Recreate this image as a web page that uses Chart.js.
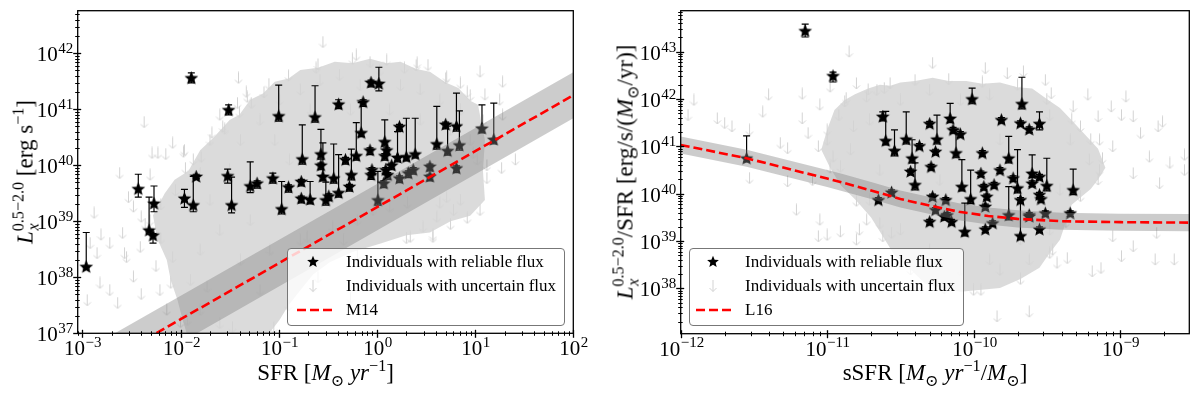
<!DOCTYPE html>
<html>
<head>
<meta charset="utf-8">
<title>Lx vs SFR and sSFR</title>
<script src="https://cdn.jsdelivr.net/npm/chart.js@4.4.0/dist/chart.umd.min.js"></script>
<style>
  html, body { margin: 0; padding: 0; background: #fff; }
  #fig { position: relative; width: 1200px; height: 398px; overflow: hidden; font-family: "Liberation Serif", "DejaVu Serif", serif; color: #000; }
  #fig canvas { position: absolute; top: 0; }
  .title { position: absolute; white-space: nowrap; font-size: 23px; line-height: 1; }
  .xt { transform: translateX(-50%); }
  .yt { transform: translate(-50%, -50%) rotate(-90deg); }
  .up { position: relative; top: -0.55em; font-size: 0.7em; }
  .dn { position: relative; top: 0.35em; font-size: 0.7em; }
  .ss { position: relative; display: inline-block; font-size: 0.7em; }
  .ss .sp { position: relative; top: -0.55em; }
  .ss .sb { position: absolute; left: 0.05em; top: 0.36em; font-style: italic; }
  .leg { position: absolute; box-sizing: border-box; border: 1px solid #777; border-radius: 4px; background: rgba(255,255,255,0.8); font-size: 17px; line-height: 1; }
  .leg .row { position: absolute; left: 0; width: 100%; height: 0; }
  .leg svg { position: absolute; top: 0; width: 1px; height: 1px; overflow: visible; }
  .leg span { position: absolute; white-space: nowrap; top: -9px; }
</style>
</head>
<body>
<div id="fig">
  <canvas id="leftChart" width="600" height="398" style="left:0"></canvas>
  <canvas id="rightChart" width="600" height="398" style="left:600px"></canvas>

  <div class="title yt" style="left:25px;top:172px"><i>L</i><span class="ss"><span class="sp">0.5−2.0</span><span class="sb">x</span></span> [erg s<span class="up">−1</span>]</div>
  <div class="title xt" style="left:325.5px;top:361px">SFR [<i>M</i><span class="dn">⊙</span> <i>yr</i><span class="up">−1</span>]</div>
  <div class="title yt" style="left:625px;top:172px"><i>L</i><span class="ss"><span class="sp">0.5−2.0</span><span class="sb">x</span></span>/SFR [erg/s/(<i>M</i><span class="dn">⊙</span>/yr)]</div>
  <div class="title xt" style="left:935px;top:361px">sSFR [<i>M</i><span class="dn">⊙</span> <i>yr</i><span class="up">−1</span>/<i>M</i><span class="dn">⊙</span>]</div>

  <div class="leg" style="left:287px;top:248px;width:278px;height:78px">
    <div class="row" style="top:13px">
      <svg style="left:25px"><polygon fill="#000" points="0,-6.2 1.64,-2.26 5.9,-1.92 2.65,0.86 3.64,5.02 0,2.79 -3.64,5.02 -2.65,0.86 -5.9,-1.92 -1.64,-2.26"/></svg>
      <span style="left:58px">Individuals with reliable flux</span>
    </div>
    <div class="row" style="top:37px">
      <svg style="left:25px"><path d="M0,-6 L0,5.5 M-3.5,2 L0,5.5 L3.5,2" stroke="#d3d3d3" stroke-width="1" fill="none"/></svg>
      <span style="left:58px">Individuals with uncertain flux</span>
    </div>
    <div class="row" style="top:61px">
      <svg style="left:9px"><line x1="0" y1="0" x2="35" y2="0" stroke="#ff0000" stroke-width="2.6" stroke-dasharray="9 4"/></svg>
      <span style="left:58px">M14</span>
    </div>
  </div>

  <div class="leg" style="left:689px;top:248px;width:275px;height:78px">
    <div class="row" style="top:13px">
      <svg style="left:23px"><polygon fill="#000" points="0,-6.2 1.64,-2.26 5.9,-1.92 2.65,0.86 3.64,5.02 0,2.79 -3.64,5.02 -2.65,0.86 -5.9,-1.92 -1.64,-2.26"/></svg>
      <span style="left:55px">Individuals with reliable flux</span>
    </div>
    <div class="row" style="top:37px">
      <svg style="left:23px"><path d="M0,-6 L0,5.5 M-3.5,2 L0,5.5 L3.5,2" stroke="#d3d3d3" stroke-width="1" fill="none"/></svg>
      <span style="left:55px">Individuals with uncertain flux</span>
    </div>
    <div class="row" style="top:61px">
      <svg style="left:6px"><line x1="0" y1="0" x2="36" y2="0" stroke="#ff0000" stroke-width="2.6" stroke-dasharray="9 4"/></svg>
      <span style="left:55px">L16</span>
    </div>
  </div>
</div>

<script>
// All values are log10.

// axis ranges and tick exponents
const leftXRange = [-3.047, 2.0];
const leftYRange = [37.0, 42.76];
const rightXRange = [-12.0, -8.527];
const rightYRange = [37.045, 43.865];
const leftXTicks = [-3, -2, -1, 0, 1, 2];
const leftYTicks = [37, 38, 39, 40, 41, 42];
const rightXTicks = [-12, -11, -10, -9];
const rightYTicks = [38, 39, 40, 41, 42, 43];

// ---- left panel: SFR vs Lx ----
// reliable detections: [logSFR, logLx, logLx upper bar, logLx lower bar]
const leftStars = [
  [-2.96, 38.19, 38.80, 38.17], [-2.43, 39.58, 39.84, 39.43], [-2.27, 39.32, 39.63, 39.17],
  [-2.32, 38.84, 39.43, 38.81], [-2.28, 38.75, 38.78, 38.61], [-1.96, 39.41, 39.57, 39.25],
  [-1.87, 39.29, 39.80, 39.17], [-1.84, 39.80, 39.84, 39.76], [-1.89, 41.56, 41.65, 41.47],
  [-1.51, 40.99, 41.08, 40.90], [-1.52, 39.81, 39.93, 39.68], [-1.48, 39.29, 39.79, 39.15],
  [-1.29, 39.63, 40.06, 39.51], [-1.22, 39.68, 39.72, 39.59], [-1.06, 39.77, 39.86, 39.68],
  [-1.00, 40.88, 41.43, 40.79], [-0.97, 39.22, 39.71, 39.13], [-0.90, 39.61, 39.65, 39.52],
  [-0.77, 39.71, 39.75, 39.63], [-0.77, 39.41, 39.45, 39.33], [-0.76, 40.11, 40.72, 40.02],
  [-0.68, 39.39, 39.71, 39.31], [-0.63, 40.86, 41.42, 40.77], [-0.57, 40.20, 40.64, 40.11],
  [-0.57, 40.00, 40.04, 39.92], [-0.55, 39.80, 40.40, 39.72], [-0.52, 39.38, 39.70, 39.29],
  [-0.49, 39.45, 39.49, 39.37], [-0.44, 39.77, 40.38, 39.68], [-0.39, 41.09, 41.17, 41.01],
  [-0.39, 39.51, 40.19, 39.43], [-0.32, 40.10, 40.14, 40.02], [-0.28, 39.62, 39.66, 39.54],
  [-0.26, 39.83, 40.29, 39.74], [-0.21, 40.17, 40.76, 40.09], [-0.16, 40.58, 41.12, 40.51],
  [-0.14, 41.13, 41.17, 41.05], [-0.07, 40.27, 40.31, 40.19], [-0.05, 39.92, 39.96, 39.84],
  [-0.06, 39.83, 39.87, 39.75], [-0.06, 41.48, 41.52, 41.40], [0.02, 41.46, 41.75, 41.33],
  [0.01, 39.38, 39.89, 39.29], [0.08, 40.42, 40.81, 40.34], [0.10, 40.27, 40.31, 40.19],
  [0.08, 40.17, 40.21, 40.09], [0.09, 39.92, 39.96, 39.84], [0.11, 39.83, 39.87, 39.75],
  [0.07, 39.68, 39.72, 39.60], [0.15, 40.00, 40.04, 39.92], [0.21, 40.14, 40.60, 40.06],
  [0.23, 40.69, 40.73, 40.61], [0.23, 39.77, 39.81, 39.69], [0.30, 40.15, 40.84, 40.08],
  [0.32, 39.86, 39.90, 39.78], [0.37, 39.92, 39.96, 39.84], [0.39, 40.20, 40.84, 40.13],
  [0.54, 39.98, 40.02, 39.90], [0.54, 39.80, 39.84, 39.72], [0.61, 40.38, 41.05, 40.29],
  [0.70, 40.73, 40.77, 40.65], [0.72, 40.26, 40.70, 40.18], [0.81, 40.70, 41.29, 40.61],
  [0.84, 40.36, 40.97, 40.27], [0.81, 39.95, 39.99, 39.87], [1.07, 40.66, 41.08, 40.58],
  [1.19, 40.46, 41.11, 40.38]
];
// upper limits drawn one by one: [logSFR, logLx]
const leftLimits = [
  [-2.62, 39.86], [-2.37, 40.77], [-2.29, 40.22], [-2.23, 40.22], [-2.15, 40.20], [-2.08, 40.40],
  [-1.97, 40.24], [-1.79, 40.15], [-1.68, 40.58], [-1.60, 40.90], [-1.41, 41.56], [-1.32, 41.22],
  [-1.42, 41.11], [-1.80, 39.86], [-2.31, 39.83], [-2.53, 39.43], [-2.88, 39.15], [-2.81, 38.76],
  [-2.72, 38.61], [-1.96, 40.27], [-1.87, 40.10], [-1.57, 40.69], [-1.33, 41.31], [-1.28, 41.11],
  [-2.48, 39.26], [-2.40, 39.08], [-2.57, 38.43], [-2.92, 38.61], [-2.85, 38.43], [-2.82, 37.90],
  [-2.95, 37.59], [-2.72, 37.77], [-2.64, 37.54], [-2.55, 38.36], [-2.48, 38.01], [-2.59, 38.79],
  [-2.41, 38.54], [-2.21, 37.77], [-2.14, 37.42], [-1.93, 37.24], [-2.31, 39.02], [-2.08, 38.36],
  [-1.73, 37.83], [-1.60, 37.18], [-1.47, 37.11], [-0.55, 42.20], [-0.21, 41.97], [-0.07, 41.84],
  [-0.62, 41.74], [0.28, 41.74], [0.41, 41.83], [0.52, 41.79], [0.71, 41.58], [0.85, 41.47],
  [0.92, 41.31], [1.05, 41.67], [1.28, 41.49], [1.25, 41.17], [1.10, 41.26], [1.28, 40.90],
  [1.41, 40.10], [1.27, 39.95], [0.98, 40.22], [1.12, 39.77], [1.02, 40.10], [0.92, 39.06],
  [0.78, 39.20], [0.61, 39.08], [0.47, 38.90], [0.57, 38.72], [0.34, 38.72], [0.71, 39.43],
  [-0.65, 37.83], [-0.27, 37.63], [-0.71, 38.72], [-0.45, 38.90], [-0.34, 38.67], [-0.20, 39.02],
  [-0.04, 39.20], [0.13, 39.26], [0.31, 39.33], [0.64, 39.33], [0.85, 39.38], [0.57, 38.76],
  [-1.19, 40.81], [-0.99, 41.17], [-0.78, 41.35], [-0.58, 41.52], [-0.38, 41.61], [-0.17, 41.43],
  [0.03, 41.70], [0.24, 41.43], [0.44, 41.35], [0.64, 41.17], [0.85, 40.99], [-1.04, 40.45],
  [-0.89, 40.10], [-1.39, 40.45], [-1.50, 39.92], [-1.70, 39.38], [-1.60, 38.84], [-1.39, 38.31],
  [-1.19, 37.77], [-1.80, 38.49], [-1.90, 37.95], [-1.29, 39.02], [-1.09, 38.49], [-0.78, 38.67],
  [-0.48, 39.38], [-0.27, 40.99], [0.44, 40.81], [0.75, 40.63], [0.95, 40.45], [0.13, 40.99],
  [-0.68, 40.99], [-1.80, 37.42],
  [-2.20, 39.30], [-1.95, 39.95], [-1.70, 40.45], [-1.40, 40.95], [-1.15, 41.30], [-0.90, 41.60],
  [-0.60, 41.80], [-0.25, 41.90], [0.10, 41.88], [0.40, 41.78], [0.70, 41.55], [0.95, 41.25],
  [1.08, 40.80], [1.12, 40.00], [1.05, 39.20], [0.75, 38.95], [0.30, 38.70], [-0.20, 38.40],
  [-0.60, 38.00], [-0.90, 37.50], [-1.05, 37.10], [-2.00, 37.20], [-2.10, 37.90], [-2.20, 38.70],
  [-2.36, 38.95], [-2.25, 38.20], [-2.40, 37.70], [-2.05, 39.55], [-1.55, 40.65], [-1.10, 41.45]
];
// outline of the crowded part of the upper-limit cloud
const leftCloudEdge = [
  [-2.28, 39.11], [-2.16, 39.50], [-2.06, 39.74], [-1.92, 39.90], [-1.80, 40.27], [-1.66, 40.50],
  [-1.50, 40.81], [-1.40, 40.90], [-1.29, 41.17], [-1.16, 41.28], [-1.04, 41.49], [-0.90, 41.55],
  [-0.78, 41.70], [-0.60, 41.74], [-0.43, 41.85], [-0.25, 41.82], [-0.07, 41.90], [0.10, 41.82],
  [0.24, 41.85], [0.40, 41.72], [0.54, 41.67], [0.70, 41.48], [0.83, 41.38], [0.95, 41.15],
  [1.03, 41.08], [1.06, 40.80], [1.10, 40.45], [1.08, 39.90], [1.10, 39.38], [0.95, 39.10],
  [0.75, 39.00], [0.54, 38.80], [0.30, 38.75], [0.03, 38.60], [-0.25, 38.45], [-0.48, 38.27],
  [-0.65, 38.05], [-0.78, 37.77], [-0.90, 37.50], [-0.99, 37.24], [-1.14, 36.90], [-1.92, 36.90],
  [-1.98, 37.25], [-2.03, 37.59], [-2.10, 37.95], [-2.14, 38.31], [-2.24, 38.70]
];
// M14 relation and its scatter band
const m14LogSfr = [-3.05, 2.0];
const m14LogLx = [36.20, 41.25];
const m14BandHi = [36.62, 41.66];
const m14BandLo = [35.78, 40.84];

// ---- right panel: sSFR vs Lx/SFR ----
const rightStars = [
  [-11.55, 40.75, 41.22, 40.67], [-11.15, 43.44, 43.58, 43.31], [-10.96, 42.49, 42.57, 42.36],
  [-10.65, 39.87, 39.92, 39.80], [-10.56, 40.03, 40.08, 39.96], [-10.62, 41.63, 41.73, 41.54],
  [-10.60, 41.12, 41.74, 41.03], [-10.54, 40.91, 41.35, 40.80], [-10.46, 41.15, 41.73, 41.05],
  [-10.42, 40.75, 41.14, 40.65], [-10.37, 41.01, 41.06, 40.94], [-10.43, 40.47, 40.52, 40.40],
  [-10.40, 40.19, 40.65, 40.08], [-10.30, 41.48, 41.53, 41.41], [-10.25, 41.15, 41.66, 41.05],
  [-10.26, 40.89, 40.94, 40.82], [-10.29, 40.57, 40.62, 40.50], [-10.16, 41.59, 41.91, 41.50],
  [-10.14, 41.35, 41.40, 41.28], [-10.09, 41.26, 41.31, 41.19], [-10.12, 40.86, 41.35, 40.76],
  [-10.01, 42.00, 42.23, 41.90], [-9.81, 41.56, 41.61, 41.49], [-9.67, 41.90, 42.46, 41.79],
  [-9.68, 41.49, 41.54, 41.42], [-9.62, 41.36, 41.41, 41.29], [-9.55, 41.48, 41.73, 41.35],
  [-9.76, 40.75, 41.21, 40.65], [-9.94, 40.86, 40.91, 40.79], [-9.95, 40.43, 40.48, 40.36],
  [-9.93, 40.15, 40.20, 40.08], [-9.82, 40.50, 40.55, 40.43], [-9.86, 40.19, 40.24, 40.12],
  [-9.91, 39.94, 39.99, 39.87], [-9.92, 39.73, 39.78, 39.66], [-10.08, 40.15, 40.72, 40.06],
  [-10.02, 39.89, 40.50, 39.79], [-10.28, 39.94, 39.99, 39.87], [-10.26, 39.66, 39.71, 39.59],
  [-10.30, 39.41, 39.46, 39.34], [-10.19, 39.87, 39.92, 39.80], [-10.18, 39.55, 39.60, 39.48],
  [-10.15, 39.41, 39.46, 39.34], [-10.06, 39.20, 39.80, 39.11], [-9.73, 40.33, 40.38, 40.26],
  [-9.70, 40.12, 40.93, 40.02], [-9.68, 39.87, 39.92, 39.80], [-9.68, 39.11, 39.87, 39.03],
  [-9.60, 40.43, 40.82, 40.34], [-9.60, 40.22, 40.27, 40.15], [-9.55, 40.36, 40.41, 40.29],
  [-9.50, 40.17, 40.75, 40.06], [-9.55, 39.98, 40.03, 39.91], [-9.54, 39.89, 39.94, 39.82],
  [-9.62, 39.55, 39.60, 39.48], [-9.51, 39.59, 39.64, 39.52], [-9.55, 39.25, 39.30, 39.18],
  [-9.76, 39.55, 40.15, 39.45], [-9.87, 39.38, 39.43, 39.31], [-9.92, 39.25, 39.30, 39.18],
  [-9.32, 40.08, 40.52, 39.98], [-9.34, 39.59, 39.64, 39.52], [-9.62, 39.52, 39.57, 39.45],
  [-10.20, 39.52, 39.57, 39.45]
];
const rightLimits = [
  [-11.95, 41.66], [-11.91, 41.98], [-11.75, 41.59], [-11.70, 41.49], [-11.65, 41.42], [-11.53, 41.35],
  [-11.53, 40.33], [-11.44, 41.73], [-11.40, 42.09], [-11.32, 41.07], [-11.27, 40.96], [-11.27, 40.26],
  [-11.17, 42.11], [-11.17, 41.59], [-11.05, 41.88], [-10.98, 42.26], [-10.92, 41.66], [-10.85, 43.00],
  [-10.80, 42.33], [-10.87, 42.02], [-11.13, 41.28], [-11.06, 41.00], [-11.00, 41.14], [-10.96, 40.78],
  [-10.91, 40.57], [-11.10, 40.29], [-10.82, 41.42], [-10.73, 42.05], [-10.66, 42.19], [-10.61, 42.23],
  [-11.21, 39.66], [-11.05, 39.45], [-11.06, 39.10], [-11.00, 39.13], [-10.91, 39.20], [-10.80, 39.03],
  [-10.73, 39.45], [-10.64, 39.38], [-10.56, 39.17], [-10.00, 37.97], [-9.84, 37.41], [-9.62, 37.51],
  [-9.43, 38.54], [-9.36, 38.64], [-9.19, 38.36], [-9.13, 38.43], [-8.99, 38.68], [-8.91, 38.89],
  [-8.76, 38.61], [-8.63, 38.61], [-8.75, 39.17], [-9.05, 39.10], [-9.46, 38.82], [-10.28, 42.76],
  [-9.92, 42.65], [-9.77, 42.54], [-9.66, 42.58], [-9.51, 42.40], [-9.47, 42.12], [-9.32, 41.84],
  [-9.22, 42.09], [-9.15, 41.63], [-9.06, 41.84], [-8.96, 42.05], [-8.99, 41.66], [-8.91, 41.63],
  [-8.86, 41.28], [-8.74, 41.42], [-8.71, 41.52], [-8.80, 40.78], [-8.66, 40.65], [-8.56, 40.82],
  [-8.56, 40.50], [-8.73, 40.22], [-8.91, 40.43], [-9.05, 41.00], [-9.14, 41.14], [-9.27, 41.42],
  [-10.84, 40.93], [-10.71, 41.56], [-10.50, 41.98], [-10.30, 42.19], [-10.09, 41.98], [-9.89, 42.09],
  [-9.68, 41.98], [-9.48, 41.66], [-9.34, 41.14], [-9.21, 40.72], [-10.71, 39.87], [-10.50, 39.24],
  [-10.30, 38.82], [-10.09, 38.39], [-9.89, 38.61], [-9.68, 39.03], [-9.48, 39.24], [-9.82, 41.14],
  [-10.23, 40.29], [-10.64, 40.50], [-10.78, 39.24], [-9.41, 40.08], [-9.14, 40.50], [-9.82, 38.39],
  [-9.62, 38.61],
  [-10.88, 41.95], [-10.72, 42.20], [-10.57, 42.33], [-10.40, 42.40], [-10.17, 42.42], [-9.94, 42.36],
  [-9.70, 42.30], [-9.50, 42.00], [-9.33, 41.58], [-9.20, 41.15], [-9.12, 40.75], [-9.15, 40.30],
  [-9.27, 39.95], [-9.37, 39.40], [-9.48, 38.75], [-9.68, 38.20], [-9.95, 37.97], [-10.20, 38.00],
  [-10.43, 38.40], [-10.62, 39.10], [-10.80, 39.85], [-10.98, 40.55], [-11.00, 41.35]
];
const rightCloudEdge = [
  [-10.95, 41.77], [-10.88, 41.98], [-10.81, 42.10], [-10.72, 42.22], [-10.64, 42.30], [-10.57, 42.28],
  [-10.50, 42.35], [-10.40, 42.38], [-10.28, 42.45], [-10.17, 42.38], [-10.05, 42.38], [-9.94, 42.32],
  [-9.82, 42.35], [-9.70, 42.25], [-9.60, 42.22], [-9.50, 42.00], [-9.41, 41.81], [-9.33, 41.55],
  [-9.27, 41.35], [-9.20, 41.12], [-9.15, 40.95], [-9.10, 40.55], [-9.15, 40.30], [-9.20, 40.10],
  [-9.33, 39.77], [-9.37, 39.40], [-9.41, 39.03], [-9.48, 38.75], [-9.55, 38.44], [-9.68, 38.20],
  [-9.82, 38.01], [-10.09, 37.93], [-10.20, 38.00], [-10.33, 38.10], [-10.43, 38.40], [-10.54, 38.70],
  [-10.62, 39.10], [-10.70, 39.50], [-10.80, 39.85], [-10.91, 40.19], [-10.98, 40.55], [-11.04, 40.93],
  [-11.00, 41.35]
];
// L16 relation and its band
const l16LogSsfr = [-12.0, -11.55, -11.0, -10.9, -10.7, -10.5, -10.3, -10.1, -9.9, -9.7, -9.4, -9.0, -8.5];
const l16LogRatio = [41.03, 40.75, 40.32, 40.24, 40.07, 39.89, 39.75, 39.62, 39.53, 39.47, 39.42, 39.40, 39.39];
const l16BandHi = [41.21, 40.93, 40.50, 40.42, 40.25, 40.07, 39.93, 39.80, 39.71, 39.65, 39.60, 39.58, 39.57];
const l16BandLo = [40.85, 40.57, 40.14, 40.06, 39.89, 39.71, 39.57, 39.44, 39.35, 39.29, 39.24, 39.22, 39.21];

const pow10 = v => Math.pow(10, v);
const fromPairs = arr => arr.map(p => ({ x: pow10(p[0]), y: pow10(p[1]) }));
const fromArrays = (xs, ys) => xs.map((x, i) => ({ x: pow10(x), y: pow10(ys[i]) }));

// band polygon: upper edge forward, lower edge back
function bandShape(xs, hi, lo) {
  return fromArrays(xs, hi).concat(fromArrays(xs, lo).reverse());
}

// marker images
function makeArrow() {
  const c = document.createElement('canvas');
  c.width = 9; c.height = 13;
  const g = c.getContext('2d');
  g.strokeStyle = '#d3d3d3';
  g.lineWidth = 1;
  g.beginPath();
  g.moveTo(4.5, 0.5); g.lineTo(4.5, 12);
  g.moveTo(1, 8.5); g.lineTo(4.5, 12); g.lineTo(8, 8.5);
  g.stroke();
  return c;
}
function makeStar(r) {
  const s = Math.ceil(2 * r + 2);
  const c = document.createElement('canvas');
  c.width = s; c.height = s;
  const g = c.getContext('2d');
  g.fillStyle = '#000';
  g.beginPath();
  for (let i = 0; i < 10; i++) {
    const rad = i % 2 ? r * 0.45 : r;
    const a = -Math.PI / 2 + i * Math.PI / 5;
    g.lineTo(s / 2 + rad * Math.cos(a), s / 2 + 0.5 + rad * Math.sin(a));
  }
  g.closePath();
  g.fill();
  return c;
}
const arrowImg = makeArrow();
const starImg = makeStar(7.2);

// vertical error bars with caps, under the stars
const errorBars = {
  id: 'errorBars',
  beforeDatasetDraw(chart, args) {
    const ds = chart.data.datasets[args.index];
    if (!ds.errHi) return;
    const { ctx, chartArea: a, scales: { x, y } } = chart;
    ctx.save();
    ctx.beginPath();
    ctx.rect(a.left, a.top, a.right - a.left, a.bottom - a.top);
    ctx.clip();
    ctx.strokeStyle = '#000';
    ctx.lineWidth = 1.2;
    ds.data.forEach((pt, i) => {
      const px = x.getPixelForValue(pt.x);
      const hi = y.getPixelForValue(ds.errHi[i]);
      const lo = y.getPixelForValue(ds.errLo[i]);
      ctx.beginPath();
      ctx.moveTo(px, hi); ctx.lineTo(px, lo);
      ctx.moveTo(px - 3.5, hi); ctx.lineTo(px + 3.5, hi);
      ctx.moveTo(px - 3.5, lo); ctx.lineTo(px + 3.5, lo);
      ctx.stroke();
    });
    ctx.restore();
  }
};

const BASE_FONT = '21px "Liberation Serif"';
const SUP_FONT = '15px "Liberation Serif"';

// "10" with a raised exponent
function drawPow(ctx, exp, x, y, mode) {
  const e = String(exp).replace('-', '\u2212');
  ctx.font = BASE_FONT;
  const wb = ctx.measureText('10').width;
  ctx.font = SUP_FONT;
  const we = ctx.measureText(e).width;
  const x0 = mode === 'x' ? x - (wb + we) / 2 : x - (wb + we);
  const base = mode === 'x' ? y + 22 : y + 7.5;
  ctx.fillStyle = '#000';
  ctx.textAlign = 'left';
  ctx.textBaseline = 'alphabetic';
  ctx.font = BASE_FONT;
  ctx.fillText('10', x0, base);
  ctx.font = SUP_FONT;
  ctx.fillText(e, x0 + wb + 0.5, base - 8.5);
}

function minorValues(scale) {
  const out = [];
  const k0 = Math.floor(Math.log10(scale.min));
  const k1 = Math.floor(Math.log10(scale.max));
  for (let k = k0; k <= k1; k++) {
    for (let m = 2; m <= 9; m++) {
      const v = m * Math.pow(10, k);
      if (v > scale.min && v < scale.max) out.push(v);
    }
  }
  return out;
}

// box, ticks and tick labels
function makeFrame(xTicks, yTicks) {
  return {
    id: 'frame',
    afterDraw(chart) {
      const { ctx, chartArea: a, scales: { x, y } } = chart;
      const seg = (x1, y1, x2, y2) => { ctx.beginPath(); ctx.moveTo(x1, y1); ctx.lineTo(x2, y2); ctx.stroke(); };
      ctx.save();
      ctx.strokeStyle = '#000';
      ctx.lineWidth = 1;
      minorValues(x).forEach(v => {
        const p = Math.round(x.getPixelForValue(v)) + 0.5;
        seg(p, a.bottom - 2, p, a.bottom + 2.5);
      });
      minorValues(y).forEach(v => {
        const p = Math.round(y.getPixelForValue(v)) + 0.5;
        seg(a.left - 2.5, p, a.left + 2, p);
      });
      ctx.lineWidth = 1.3;
      xTicks.forEach(k => {
        const p = Math.round(x.getPixelForValue(pow10(k))) + 0.5;
        seg(p, a.bottom - 3.5, p, a.bottom + 4.5);
        drawPow(ctx, k, p, a.bottom, 'x');
      });
      yTicks.forEach(k => {
        const p = Math.round(y.getPixelForValue(pow10(k))) + 0.5;
        seg(a.left - 4.5, p, a.left + 3.5, p);
        drawPow(ctx, k, a.left - 5, p, 'y');
      });
      ctx.lineWidth = 1.3;
      ctx.strokeRect(a.left, a.top, a.right - a.left, a.bottom - a.top);
      ctx.restore();
    }
  };
}

function buildPanel(canvasId, p) {
  const ctx = document.getElementById(canvasId).getContext('2d');
  return new Chart(ctx, {
    type: 'scatter',
    data: {
      datasets: [
        {
          type: 'line', label: 'cloud', data: fromPairs(p.cloud), fill: 'shape',
          backgroundColor: 'rgba(211,211,211,0.82)', borderWidth: 0, pointRadius: 0,
          tension: 0, order: 6, clip: 0
        },
        {
          label: 'Individuals with uncertain flux', data: fromPairs(p.limits),
          pointStyle: arrowImg, pointRadius: 5, order: 5, clip: 0
        },
        {
          label: 'Individuals with reliable flux',
          data: p.stars.map(s => ({ x: pow10(s[0]), y: pow10(s[1]) })),
          errHi: p.stars.map(s => pow10(s[2])),
          errLo: p.stars.map(s => pow10(s[3])),
          pointStyle: starImg, pointRadius: 7, order: 4, clip: 0
        },
        {
          type: 'line', label: 'band', data: p.band, fill: 'shape',
          backgroundColor: 'rgba(128,128,128,0.4)', borderWidth: 0, pointRadius: 0,
          tension: 0, order: 3, clip: 0
        },
        {
          type: 'line', label: p.lineName, data: p.line, fill: false,
          borderColor: '#ff0000', borderWidth: 2.6, borderDash: [9, 4],
          pointRadius: 0, tension: 0, order: 2, clip: 0
        }
      ]
    },
    options: {
      responsive: false,
      animation: false,
      events: [],
      layout: { padding: p.padding },
      plugins: { legend: { display: false }, tooltip: { enabled: false } },
      scales: {
        x: { type: 'logarithmic', display: false, bounds: 'data', min: pow10(p.xRange[0]), max: pow10(p.xRange[1]) },
        y: { type: 'logarithmic', display: false, bounds: 'data', min: pow10(p.yRange[0]), max: pow10(p.yRange[1]) }
      }
    },
    plugins: [errorBars, makeFrame(p.xTicks, p.yTicks)]
  });
}

buildPanel('leftChart', {
  cloud: leftCloudEdge,
  limits: leftLimits,
  stars: leftStars,
  band: bandShape(m14LogSfr, m14BandHi, m14BandLo),
  line: fromArrays(m14LogSfr, m14LogLx),
  lineName: 'M14',
  xRange: leftXRange, yRange: leftYRange,
  xTicks: leftXTicks, yTicks: leftYTicks,
  padding: { left: 77.7, right: 26.7, top: 10.7, bottom: 64.7 }
});

buildPanel('rightChart', {
  cloud: rightCloudEdge,
  limits: rightLimits,
  stars: rightStars,
  band: bandShape(l16LogSsfr, l16BandHi, l16BandLo),
  line: fromArrays(l16LogSsfr, l16LogRatio),
  lineName: 'L16',
  xRange: rightXRange, yRange: rightYRange,
  xTicks: rightXTicks, yTicks: rightYTicks,
  padding: { left: 80.7, right: 10.7, top: 10.7, bottom: 64.3 }
});
</script>
</body>
</html>
